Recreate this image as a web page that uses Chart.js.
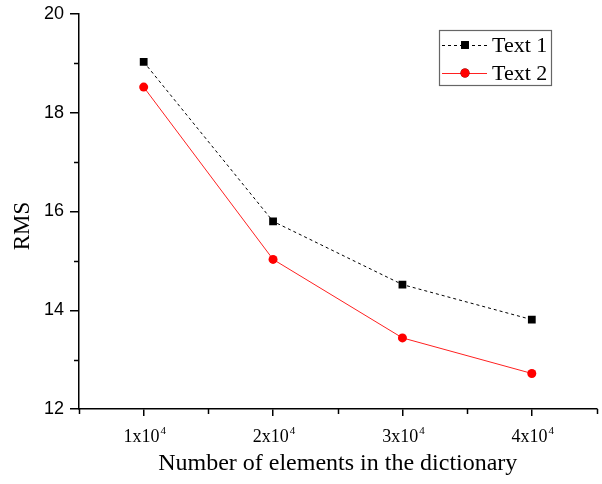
<!DOCTYPE html>
<html>
<head>
<meta charset="utf-8">
<script src="https://cdn.jsdelivr.net/npm/chart.js@4.4.0/dist/chart.umd.min.js"></script>
<style>
    html, body { margin: 0; padding: 0; background: #fff; }
    #div_chart { width: 602px; height: 484px; }
</style>
</head>
<body>
<div id="div_chart"><canvas id="myChart" width="602" height="484"></canvas></div>
<script>
// x positions (in units of 10^4 elements)
const categories = [1, 2, 3, 4];
const xTickLabels = ['1x10', '2x10', '3x10', '4x10'];
const xTickExp = '4';
const text1 = [19.03, 15.80, 14.52, 13.81];
const text2 = [18.52, 15.03, 13.44, 12.72];
const yMinorTicks = [13, 15, 17, 19];
const xMinorTicks = [0.5, 1.5, 2.5, 3.5, 4.5];

const serif = '"Liberation Serif", "Times New Roman", serif';
const sans = '"Liberation Sans", Arial, sans-serif';

function toPoints(arr) {
    return categories.map((c, i) => ({ x: c, y: arr[i] }));
}

function noPad(scale) {
    scale.paddingTop = 0;
    scale.paddingBottom = 0;
    scale.paddingLeft = 0;
    scale.paddingRight = 0;
}

// minor ticks, superscript tick labels, axis titles and the boxed legend
const extras = {
    id: 'extras',
    afterDraw(chart) {
        const ctx = chart.ctx;
        const xs = chart.scales.x;
        const ys = chart.scales.y;
        const area = chart.chartArea;
        ctx.save();

        ctx.strokeStyle = '#000';
        ctx.lineWidth = 1.5;
        yMinorTicks.forEach(v => {
            const y = Math.round(ys.getPixelForValue(v)) + 0.5;
            ctx.beginPath();
            ctx.moveTo(area.left - 5, y);
            ctx.lineTo(area.left, y);
            ctx.stroke();
        });
        xMinorTicks.forEach(v => {
            const x = Math.round(xs.getPixelForValue(v)) + 0.5;
            ctx.beginPath();
            ctx.moveTo(x, area.bottom);
            ctx.lineTo(x, area.bottom + 5);
            ctx.stroke();
        });

        // x tick labels like 1x10^4
        ctx.fillStyle = '#000';
        ctx.textBaseline = 'alphabetic';
        ctx.textAlign = 'left';
        categories.forEach((c, i) => {
            ctx.font = '18px ' + serif;
            const w1 = ctx.measureText(xTickLabels[i]).width;
            ctx.font = '11px ' + serif;
            const w2 = ctx.measureText(xTickExp).width;
            const x0 = xs.getPixelForValue(c) + 1 - (w1 + w2 + 1) / 2;
            ctx.font = '18px ' + serif;
            ctx.fillText(xTickLabels[i], x0, 442);
            ctx.font = '11px ' + serif;
            ctx.fillText(xTickExp, x0 + w1 + 1, 434);
        });

        // axis titles
        ctx.font = '24px ' + serif;
        ctx.textAlign = 'center';
        ctx.fillText('Number of elements in the dictionary', (area.left + area.right) / 2, 470);
        ctx.save();
        ctx.translate(29, 226);
        ctx.rotate(-Math.PI / 2);
        ctx.font = '23px ' + serif;
        ctx.textAlign = 'center';
        ctx.textBaseline = 'alphabetic';
        ctx.fillText('RMS', 0, 0);
        ctx.restore();

        // legend
        ctx.strokeStyle = '#666';
        ctx.lineWidth = 1.2;
        ctx.strokeRect(439.5, 30.5, 112, 55);
        const rows = [45, 73];
        chart.data.datasets.forEach((ds, i) => {
            const y = rows[i];
            ctx.strokeStyle = ds.borderColor;
            ctx.lineWidth = ds.borderWidth;
            ctx.setLineDash(ds.borderDash || []);
            ctx.beginPath();
            ctx.moveTo(442, y + 0.5);
            ctx.lineTo(487, y + 0.5);
            ctx.stroke();
            ctx.setLineDash([]);
            Chart.helpers.drawPoint(ctx, {
                pointStyle: ds.pointStyle,
                radius: ds.pointRadius,
                borderWidth: 0
            }, 465, y);
            ctx.fillStyle = ds.pointBackgroundColor;
            ctx.fill();
            ctx.fillStyle = '#000';
            ctx.font = '22px ' + serif;
            ctx.textAlign = 'left';
            ctx.textBaseline = 'middle';
            ctx.fillText(ds.label, 492, y + 1);
        });

        ctx.restore();
    }
};

const data = {
    datasets: [{
        label: 'Text 1',
        data: toPoints(text1),
        borderColor: '#000',
        borderWidth: 1,
        borderDash: [3, 3],
        pointStyle: 'rect',
        pointRadius: 5.5,
        pointBackgroundColor: '#000',
        pointBorderColor: '#000',
        pointBorderWidth: 0
    },
    {
        label: 'Text 2',
        data: toPoints(text2),
        borderColor: '#ff2020',
        borderWidth: 1,
        pointStyle: 'circle',
        pointRadius: 4.5,
        pointBackgroundColor: '#ff0000',
        pointBorderColor: '#ff0000',
        pointBorderWidth: 0
    }]
};

const config = {
    type: 'line',
    data: data,
    plugins: [extras],
    options: {
        responsive: false,
        animation: false,
        layout: { padding: { top: 14, right: 1, left: 0, bottom: 0 } },
        plugins: {
            legend: { display: false },
            tooltip: { enabled: false }
        },
        scales: {
            x: {
                type: 'linear',
                min: 0.5,
                max: 4.5,
                afterBuildTicks: function (scale) {
                    scale.ticks = categories.map(v => ({ value: v }));
                },
                afterFit: function (scale) {
                    scale.height = 75;
                    noPad(scale);
                },
                ticks: {
                    callback: () => '',
                    font: { size: 18, family: serif }
                },
                grid: {
                    drawOnChartArea: false,
                    tickLength: 7,
                    color: '#000',
                    lineWidth: 1.5
                },
                border: { color: '#000', width: 1.5 }
            },
            y: {
                min: 12,
                max: 20,
                afterFit: function (scale) {
                    scale.width = 79;
                    noPad(scale);
                },
                ticks: {
                    stepSize: 2,
                    color: '#000',
                    padding: 6,
                    font: { size: 18, family: sans }
                },
                grid: {
                    drawOnChartArea: false,
                    tickLength: 9,
                    color: '#000',
                    lineWidth: 1.5
                },
                border: { color: '#000', width: 1.5 }
            }
        }
    }
};

const myChart = new Chart(
    document.getElementById('myChart'),
    config
);
</script>
</body>
</html>
